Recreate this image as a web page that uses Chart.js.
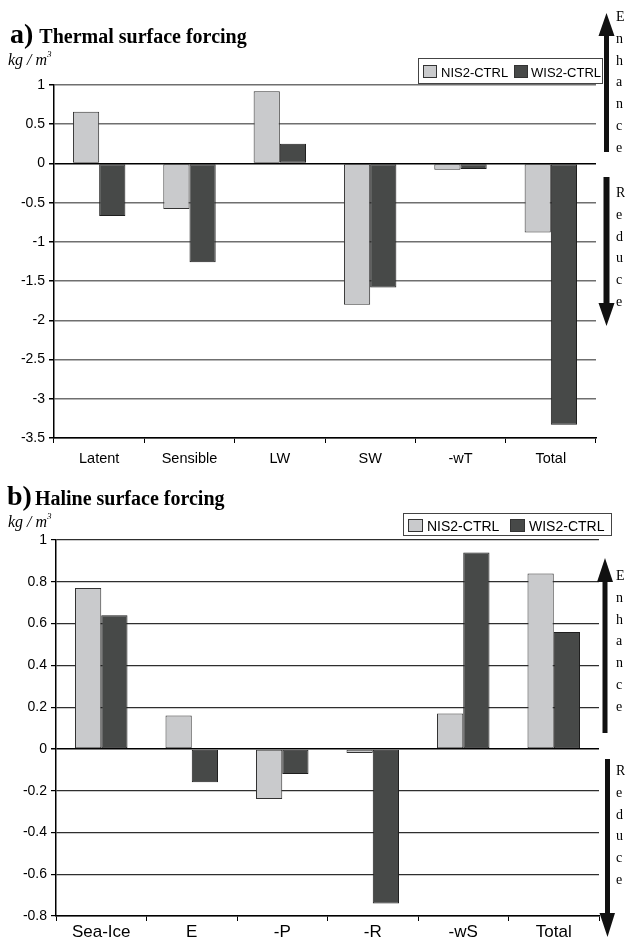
<!DOCTYPE html>
<html>
<head>
<meta charset="utf-8">
<title>Thermal and haline surface forcing</title>
<script src="https://cdn.jsdelivr.net/npm/chart.js@4.4.1/dist/chart.umd.min.js"></script>
<style>
  html, body { margin: 0; padding: 0; background: #fff; }
  #page { position: relative; width: 625px; height: 940px; overflow: hidden; background: #fff; }
  #page canvas { position: absolute; left: 0; }
  #thermal { top: 0; }
  #haline { top: 470px; }
  #overlay { position: absolute; left: 0; top: 0; z-index: 2; pointer-events: none; }
</style>
</head>
<body>
<div id="page">
  <canvas id="thermal" width="625" height="470"></canvas>
  <canvas id="haline" width="625" height="470"></canvas>
  <svg id="overlay" width="625" height="940" xmlns="http://www.w3.org/2000/svg">
    <g font-family="'Liberation Serif','Times New Roman',serif" font-weight="bold" fill="#000">
      <text x="10" y="43"><tspan font-size="28">a)</tspan><tspan font-size="20" dx="6">Thermal surface forcing</tspan></text>
      <text x="7" y="505"><tspan font-size="28">b)</tspan><tspan font-size="20" dx="3">Haline surface forcing</tspan></text>
    </g>
    <g font-family="'Liberation Serif','Times New Roman',serif" font-style="italic" fill="#000">
      <text x="8" y="65" font-size="16">kg / m<tspan font-size="9" dy="-8">3</tspan></text>
      <text x="8" y="527" font-size="16">kg / m<tspan font-size="9" dy="-8">3</tspan></text>
    </g>
    <!-- enhance / reduce arrows -->
    <g fill="#111">
      <path d="M606.5 13 L614.5 36 L609 36 L609 152 L604 152 L604 36 L598.5 36 Z"/>
      <path d="M603.5 177 L609.5 177 L609.5 303 L614.5 303 L606.5 326 L598.5 303 L603.5 303 Z"/>
      <path d="M605 558 L613 582 L607.5 582 L607.5 733 L602.5 733 L602.5 582 L597 582 Z"/>
      <path d="M605 759 L610 759 L610 913 L615 913 L607.5 937 L599.5 913 L605 913 Z"/>
    </g>
    <g id="arrowWords" font-family="'Liberation Serif','Times New Roman',serif" font-size="14" fill="#000"></g>
    <g id="legendThermal"></g>
    <g id="legendHaline"></g>
  </svg>
</div>
<script>
// ---- data ----
const seriesNames = ['NIS2-CTRL', 'WIS2-CTRL'];
const seriesFill = ['#c9cacc', '#474948'];
const seriesEdge = ['#333333', '#1e1e1e'];

const thermalCategories = ['Latent', 'Sensible', 'LW', 'SW', '-wT', 'Total'];
const thermalNIS = [0.66, -0.58, 0.92, -1.80, -0.08, -0.88];
const thermalWIS = [-0.67, -1.26, 0.25, -1.58, -0.07, -3.33];
const thermalTicks = [-3.5, -3, -2.5, -2, -1.5, -1, -0.5, 0, 0.5, 1];

const halineCategories = ['Sea-Ice', 'E', '-P', '-R', '-wS', 'Total'];
const halineNIS = [0.77, 0.16, -0.24, -0.02, 0.17, 0.84];
const halineWIS = [0.64, -0.16, -0.12, -0.74, 0.94, 0.56];
const halineTicks = [-0.8, -0.6, -0.4, -0.2, 0, 0.2, 0.4, 0.6, 0.8, 1];

const SANS = "'Liberation Sans', Arial, Helvetica, sans-serif";

function makeChart(canvasId, cats, nis, wis, ticks, cfg) {
  return new Chart(document.getElementById(canvasId), {
    type: 'bar',
    data: {
      labels: cats,
      datasets: [nis, wis].map((vals, i) => ({
        label: seriesNames[i],
        data: vals,
        backgroundColor: seriesFill[i],
        borderColor: seriesEdge[i],
        borderWidth: 1,
        borderSkipped: false,
        categoryPercentage: 0.58,
        barPercentage: 1
      }))
    },
    options: {
      responsive: false,
      animation: false,
      devicePixelRatio: 1,
      layout: { padding: { top: cfg.padTop, right: cfg.padRight, left: 0, bottom: 0 } },
      plugins: { legend: { display: false }, tooltip: { enabled: false } },
      scales: {
        x: {
          offset: true,
          grid: { display: true, offset: true, drawOnChartArea: false, drawTicks: true, tickLength: 5, color: '#000', lineWidth: 1 },
          border: { display: true, color: '#000', width: 1.5 },
          ticks: { color: '#000', font: { family: SANS, size: cfg.xFont }, padding: cfg.xPad, maxRotation: 0, autoSkip: false },
          afterFit: s => { s.height = cfg.xHeight; }
        },
        y: {
          min: ticks[0],
          max: ticks[ticks.length - 1],
          afterBuildTicks: s => { s.ticks = ticks.map(v => ({ value: v })); },
          grid: {
            color: c => (c.tick && c.tick.value === 0) ? '#000' : cfg.gridColor,
            lineWidth: c => (c.tick && c.tick.value === 0) ? 1.5 : cfg.gridWidth,
            tickLength: 5,
            tickColor: '#000'
          },
          border: { display: true, color: '#000', width: 1.5 },
          ticks: { color: '#000', font: { family: SANS, size: cfg.yFont }, padding: 4, callback: v => String(v) },
          afterFit: s => { s.width = cfg.yWidth; }
        }
      }
    }
  });
}

makeChart('thermal', thermalCategories, thermalNIS, thermalWIS, thermalTicks, {
  padTop: 85, padRight: 29, yWidth: 54, xHeight: 32, xFont: 14.5, yFont: 14, xPad: 7,
  gridColor: '#6f6f6f', gridWidth: 1.5
});
makeChart('haline', halineCategories, halineNIS, halineWIS, halineTicks, {
  padTop: 70, padRight: 26, yWidth: 56, xHeight: 24, xFont: 17, yFont: 14, xPad: 1,
  gridColor: '#2e2e2e', gridWidth: 1.2
});

// ---- legends ----
const NS = 'http://www.w3.org/2000/svg';
function el(tag, attrs, parent) {
  const e = document.createElementNS(NS, tag);
  for (const k in attrs) e.setAttribute(k, attrs[k]);
  if (parent) parent.appendChild(e);
  return e;
}
function legend(groupId, box, swX, swY, swW, swH, txtX, baseY, size) {
  const g = document.getElementById(groupId);
  el('rect', { x: box[0], y: box[1], width: box[2], height: box[3], fill: '#fff', stroke: '#444', 'stroke-width': 1 }, g);
  seriesNames.forEach((name, i) => {
    el('rect', { x: swX[i], y: swY, width: swW, height: swH, fill: seriesFill[i], stroke: '#333', 'stroke-width': 1 }, g);
    const t = el('text', { x: txtX[i], y: baseY, 'font-family': SANS, 'font-size': size, fill: '#000' }, g);
    t.textContent = name;
  });
}
legend('legendThermal', [418.5, 58.5, 184, 25], [423.5, 514.5], 65.5, 13, 12, [441, 531], 77, 13);
legend('legendHaline', [403.5, 513.5, 208, 22], [408.5, 510.5], 519.5, 14, 12, [427, 529], 531, 14);

// ---- arrow words, one letter per line ----
const words = [
  { text: 'Enhance', y0: 21 },
  { text: 'Reduce', y0: 197 },
  { text: 'Enhance', y0: 580 },
  { text: 'Reduce', y0: 775 }
];
const wg = document.getElementById('arrowWords');
words.forEach(w => {
  [...w.text].forEach((ch, k) => {
    const t = el('text', { x: 616, y: w.y0 + k * 21.8 }, wg);
    t.textContent = ch;
  });
});
</script>
</body>
</html>
